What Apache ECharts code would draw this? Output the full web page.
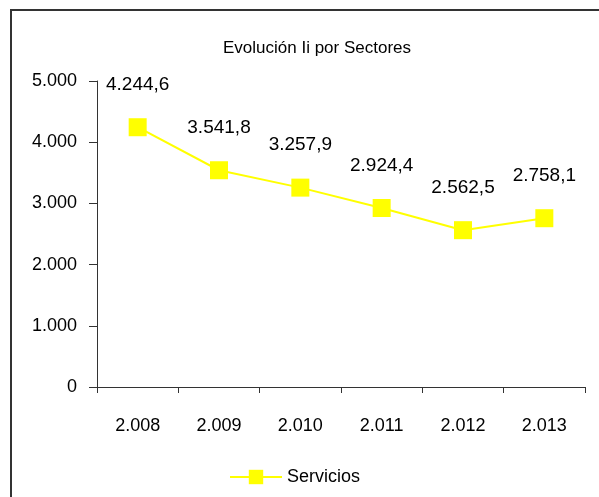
<!DOCTYPE html>
<html>
<head>
<meta charset="utf-8">
<script src="https://cdn.jsdelivr.net/npm/echarts@6/dist/echarts.min.js"></script>
<style>
html,body{margin:0;padding:0;background:#fff;}
#c{width:599px;height:497px;}
</style>
</head>
<body>
<div id="c"></div>
<script>
const titleText = 'Evolución Ii por Sectores';
const categories = ['2.008', '2.009', '2.010', '2.011', '2.012', '2.013'];
const seriesName = 'Servicios';
const values = [4244.6, 3541.8, 3257.9, 2924.4, 2562.5, 2758.1];
const yTicks = [0, 1000, 2000, 3000, 4000, 5000];

function fmtThousands(v, dec) {
  const parts = v.toFixed(dec).split('.');
  const intPart = parts[0].replace(/\B(?=(\d{3})+(?!\d))/g, '.');
  return dec > 0 ? intPart + ',' + parts[1] : intPart;
}

const FONT = '"Liberation Sans", Arial, sans-serif';
const chart = echarts.init(document.getElementById('c'), null, {renderer: 'canvas'});
chart.setOption({
  animation: false,
  backgroundColor: '#fff',
  graphic: [{
    type: 'rect',
    shape: {x: 11, y: 10, width: 700, height: 600},
    style: {fill: 'none', stroke: '#333', lineWidth: 2},
    silent: true
  }],
  title: {
    text: titleText,
    left: 312, top: 35, textAlign: 'center',
    textStyle: {fontFamily: FONT, fontSize: 17, fontWeight: 'normal', color: '#000'}
  },
  legend: {
    data: [seriesName],
    left: 229, top: 468, padding: 0,
    itemWidth: 52, itemHeight: 18, itemGap: 6,
    textStyle: {fontFamily: FONT, fontSize: 18, color: '#000'}
  },
  grid: {left: 97, right: 14, top: 81, bottom: 110, containLabel: false},
  xAxis: {
    type: 'category',
    data: categories,
    boundaryGap: true,
    axisLine: {lineStyle: {color: '#333', width: 1}},
    axisTick: {show: true, length: 6, lineStyle: {color: '#333'}},
    axisLabel: {fontFamily: FONT, fontSize: 18, color: '#000', margin: 30}
  },
  yAxis: {
    type: 'value',
    min: yTicks[0], max: yTicks[yTicks.length - 1], interval: 1000,
    axisLine: {show: true, lineStyle: {color: '#333', width: 1}},
    axisTick: {show: true, length: 8, lineStyle: {color: '#333'}},
    splitLine: {show: false},
    axisLabel: {fontFamily: FONT, fontSize: 18, color: '#000', margin: 20,
      formatter: v => fmtThousands(v, 0)}
  },
  series: [{
    name: seriesName,
    type: 'line',
    data: values,
    symbol: 'rect',
    symbolSize: 18,
    itemStyle: {color: '#ffff00'},
    lineStyle: {color: '#ffff00', width: 2},
    label: {
      show: true, position: 'top', distance: 24,
      fontFamily: FONT, fontSize: 19, color: '#000',
      formatter: p => fmtThousands(p.value, 1)
    }
  }]
});
</script>
</body>
</html>
